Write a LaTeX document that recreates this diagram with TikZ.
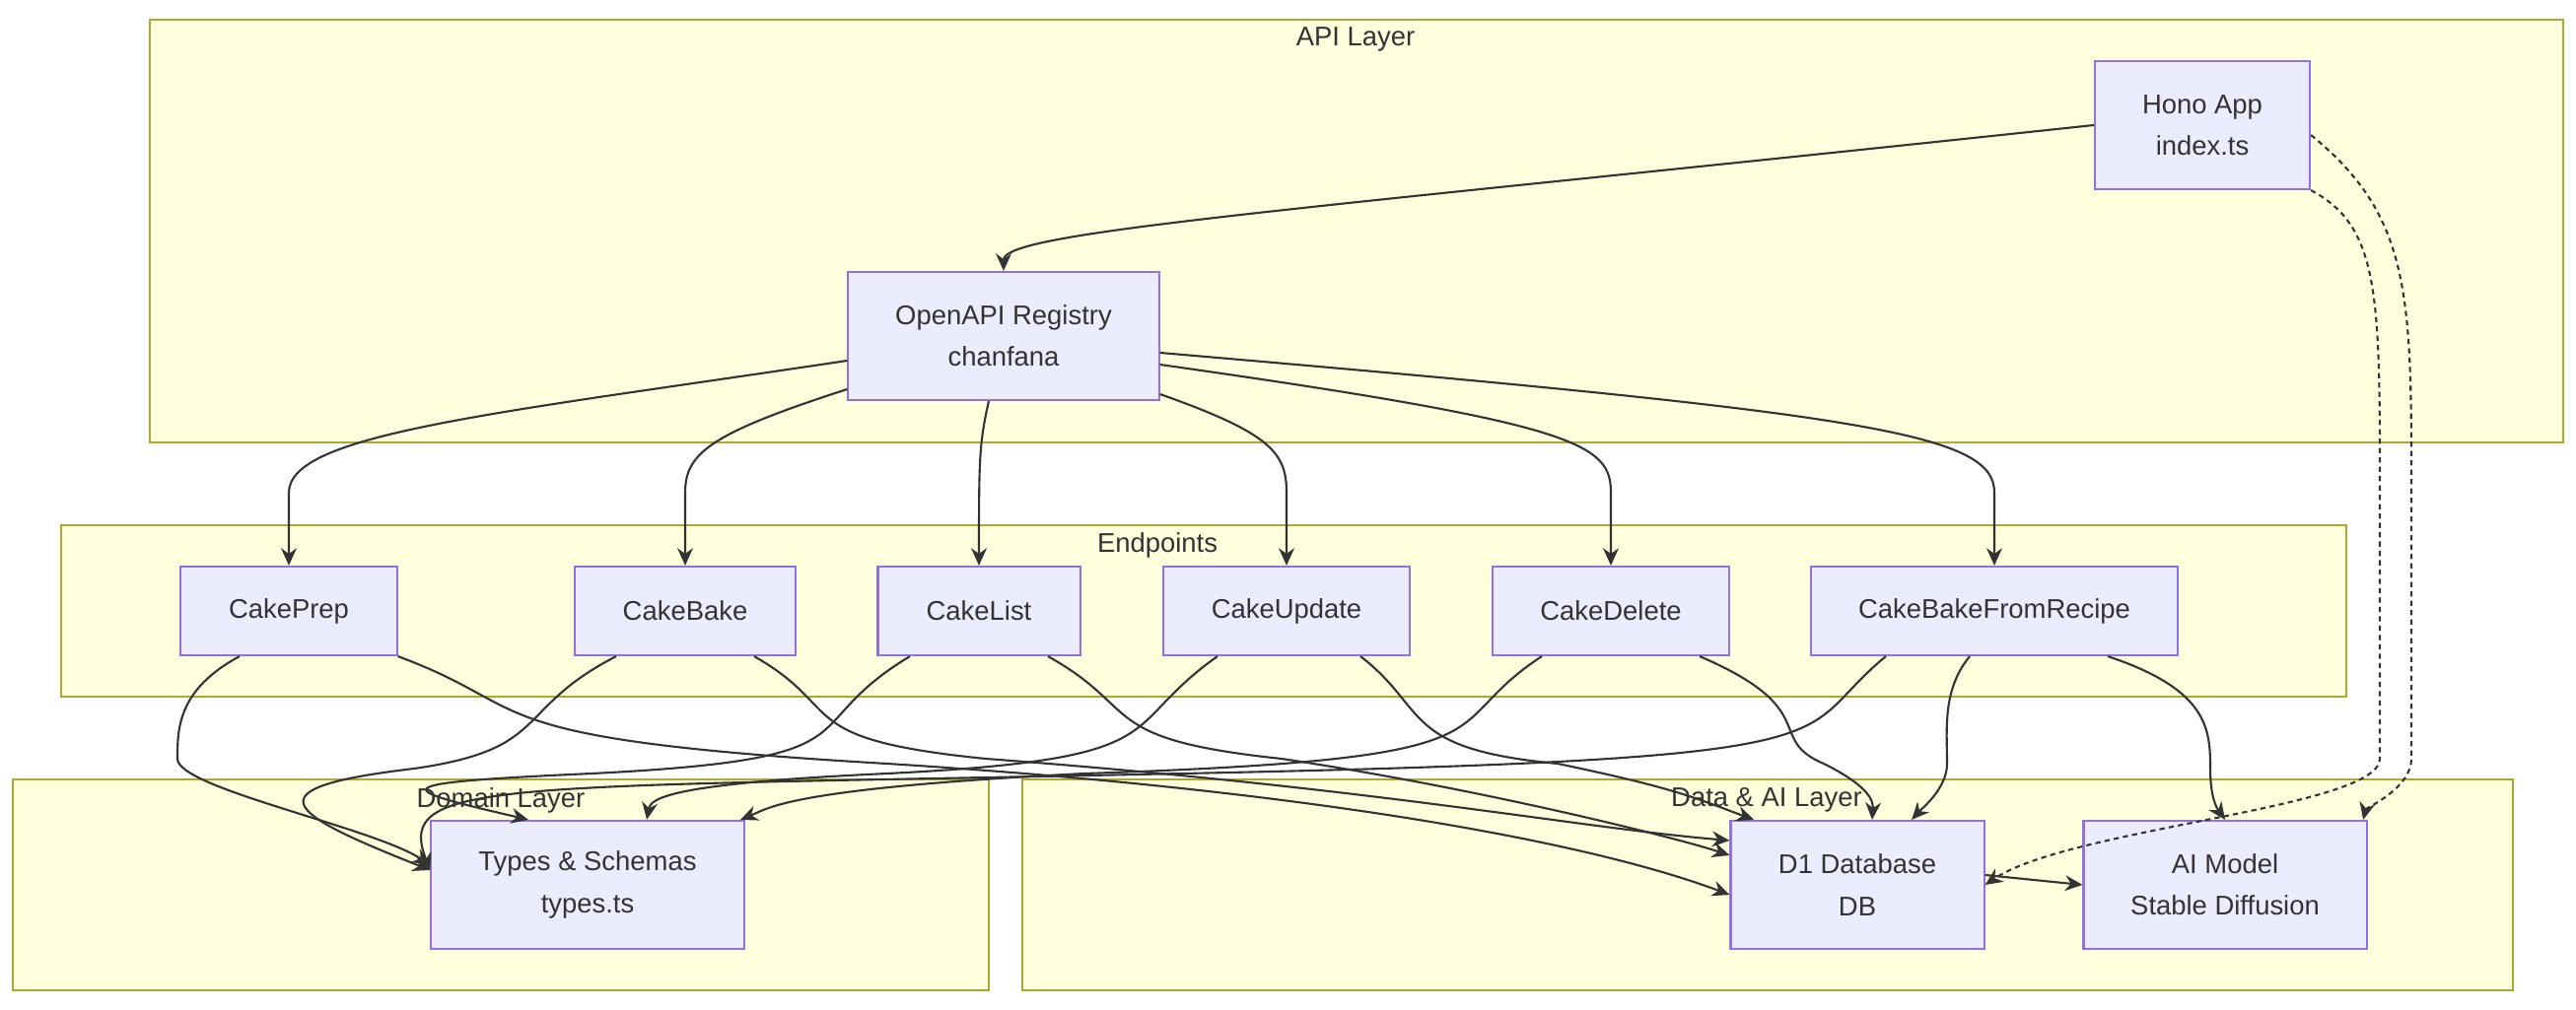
\documentclass[tikz,border=0pt]{standalone}
\usepackage{fontspec}
\setmainfont{Liberation Sans}
\usetikzlibrary{positioning,arrows.meta}
\definecolor{clfill}{HTML}{FFFFDE}
\definecolor{cldraw}{HTML}{AAAA33}
\definecolor{ndfill}{HTML}{ECECFF}
\definecolor{nddraw}{HTML}{9370DB}
\definecolor{lncol}{HTML}{333333}
\tikzstyle{cluster} = [draw=cldraw, fill=clfill, line width=0.6pt]
\tikzstyle{box} = [rectangle, draw=nddraw, fill=ndfill, line width=0.6pt, minimum height=0.9cm, align=center, text=lncol, font=\fontsize{7.8}{12}\selectfont]
\tikzstyle{connect} = [draw=lncol, line width=0.6pt, -{Stealth[length=5pt,width=4.5pt]}]
\tikzstyle{dotted2} = [connect, dash pattern=on 1.5pt off 1.2pt]
\tikzstyle{cltext} = [text=lncol, font=\fontsize{7.8}{10}\selectfont]

\begin{document}
\begin{tikzpicture}[x=0.01cm, y=-0.01cm]
			\useasboundingbox (0,0) rectangle (2613,1025);
			\fill[white] (0,0) rectangle (2613,1025);
			% clusters
			\draw[cluster] (152,20) rectangle (2600,449);
			\draw[cluster] (62,533) rectangle (2380,707);
			\draw[cluster] (13,791) rectangle (1003,1005);
			\draw[cluster] (1037,791) rectangle (2549,1005);
			\node (apilbl) [cltext] at (1375,40) {API Layer};
			\node (eplbl) [cltext] at (1174,553) {Endpoints};
			\node (domlbl) [cltext] at (508,812) {Domain Layer};
			\node (datalbl) [cltext] at (1792,812) {Data \& AI Layer};
			
			% nodes
			\node (hono) [box, minimum width=2.18cm, minimum height=1.3cm] at (2234,127) {Hono App\\index.ts};
			\node (reg) [box, minimum width=3.15cm, minimum height=1.3cm] at (1018,341) {OpenAPI Registry\\chanfana};
			\node (prep) [box, minimum width=2.19cm] at (293,620) {CakePrep};
			\node (bake) [box, minimum width=2.24cm] at (695,620) {CakeBake};
			\node (list) [box, minimum width=2.05cm] at (993,620) {CakeList};
			\node (update) [box, minimum width=2.5cm] at (1305,620) {CakeUpdate};
			\node (delete) [box, minimum width=2.4cm] at (1634,620) {CakeDelete};
			\node (recipe) [box, minimum width=3.71cm] at (2023,620) {CakeBakeFromRecipe};
			\node (types) [box, minimum width=3.17cm, minimum height=1.3cm] at (596,898) {Types \& Schemas\\types.ts};
			\node (db) [box, minimum width=2.57cm, minimum height=1.3cm] at (1884,898) {D1 Database\\DB};
			\node (ai) [box, minimum width=2.87cm, minimum height=1.3cm] at (2257,898) {AI Model\\Stable Diffusion};
			
			% api layer
			\draw [connect] (hono.west) .. controls (1300,215) and (1018,235) .. (reg.north);
			\draw [dotted2] (hono.south east) .. controls (2414,230) and (2414,300) .. (2414,500) -- (2414,770) .. controls (2414,820) and (2100,840) .. (db.east);
			\draw [dotted2] ([yshift=-0.1cm]hono.east) .. controls (2446,220) and (2446,300) .. (2446,500) -- (2446,770) .. controls (2446,800) and (2400,820) .. ([xshift=1.4cm]ai.north);
			\draw [connect] (reg.west|-0,366) .. controls (500,420) and (293,440) .. (293,500) -- (prep.north);
			\draw [connect] (reg.west|-0,395) .. controls (720,440) and (695,460) .. (695,500) -- (bake.north);
			\draw [connect] (reg.south-|1003,0) .. controls (993,450) and (993,470) .. (list.north);
			\draw [connect] (reg.east|-0,400) .. controls (1290,440) and (1305,460) .. (1305,500) -- (update.north);
			\draw [connect] (reg.east|-0,370) .. controls (1600,430) and (1634,450) .. (1634,500) -- (delete.north);
			\draw [connect] (reg.east|-0,358) .. controls (1900,420) and (2023,440) .. (2023,500) -- (recipe.north);
			
			% endpoints to domain
			\draw [connect] ([xshift=-0.5cm]prep.south) .. controls (180,700) and (180,740) .. (180,770) .. controls (180,800) and (380,840) .. ([yshift=0.2cm]types.west);
			\draw [connect] ([xshift=-0.7cm]bake.south) .. controls (520,720) and (560,760) .. (420,780) .. controls (250,800) and (290,825) .. ([yshift=0.15cm]types.west);
			\draw [connect] ([xshift=-0.7cm]list.south) .. controls (800,740) and (900,770) .. (600,785) .. controls (380,795) and (400,800) .. ([xshift=-0.6cm]types.north);
			\draw [connect] ([xshift=-0.7cm]update.south) .. controls (1130,740) and (1200,770) .. (900,785) .. controls (680,795) and (660,810) .. ([xshift=0.6cm]types.north);
			\draw [connect] ([xshift=-0.7cm]delete.south) .. controls (1450,740) and (1560,770) .. (1100,785) .. controls (800,800) and (780,820) .. ([xshift=1.55cm]types.north);
			\draw [connect] ([xshift=-1.1cm]recipe.south) .. controls (1810,750) and (1920,770) .. (1200,785) .. controls (500,800) and (400,790) .. ([yshift=0.15cm]types.west);
			
			% endpoints to data
			\draw [connect] (prep.south east) .. controls (550,720) and (470,750) .. (900,775) .. controls (1300,800) and (1600,850) .. ([yshift=-0.1cm]db.west);
			\draw [connect] ([xshift=0.7cm]bake.south) .. controls (860,720) and (800,750) .. (1000,770) .. controls (1400,800) and (1600,840) .. ([yshift=0.45cm]db.west);
			\draw [connect] ([xshift=0.7cm]list.south) .. controls (1160,720) and (1110,750) .. (1300,770) .. controls (1500,800) and (1700,850) .. ([yshift=0.3cm]db.west);
			\draw [connect] ([xshift=0.75cm]update.south) .. controls (1450,720) and (1420,760) .. (1580,775) .. controls (1700,800) and (1720,810) .. ([xshift=-1.05cm]db.north);
			\draw [connect] ([xshift=0.9cm]delete.south) .. controls (1850,720) and (1790,750) .. (1850,775) .. controls (1900,800) and (1900,815) .. ([xshift=0.15cm]db.north);
			\draw [connect] ([xshift=-0.25cm]recipe.south) .. controls (1970,700) and (1975,740) .. (1975,775) .. controls (1975,800) and (1950,820) .. ([xshift=0.55cm]db.north);
			\draw [connect] ([xshift=1.15cm]recipe.south) .. controls (2240,700) and (2242,740) .. (2242,780) .. controls (2242,800) and (2245,815) .. (ai.north);
			\draw [connect] ([yshift=0.1cm]db.east) -- ([yshift=-0.0cm]ai.west);
			\end{tikzpicture}
\end{document}
